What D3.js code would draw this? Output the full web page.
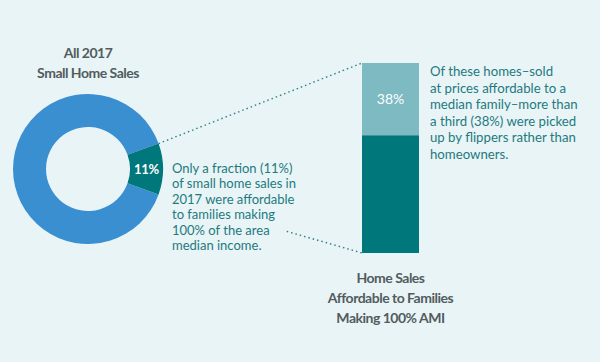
<!DOCTYPE html>
<html>
<head>
<meta charset="utf-8">
<script src="https://cdn.jsdelivr.net/npm/d3@7"></script>
<style>
  html, body { margin: 0; padding: 0; background: #e9f4f6; }
  svg { display: block; font-family: Lato, "Open Sans", sans-serif; }
</style>
</head>
<body>
<div id="chart"></div>
<script>
// all 2017 small home sales: share affordable to a 100% AMI family
const donutCategories = ['Not affordable', 'Affordable at 100% AMI'];
const donutValues = [89, 11];
const donutLabels = ['', '11%'];

// of the affordable sales: who bought them
const barCategories = ['Homeowners', 'Flippers'];
const barValues = [62, 38];
const barLabels = ['', '38%'];

const donutTitle = ['All 2017', 'Small Home Sales'];
const barTitle = ['Home Sales', 'Affordable to Families', 'Making 100% AMI'];
const donutNote = ['Only a fraction (11%)', 'of small home sales in', '2017 were affordable',
    'to families making', '100% of the area', 'median income.'];
const barNote = ['Of these homes\u2013sold', 'at prices affordable to a', 'median family\u2013more than',
    'a third (38%) were picked', 'up by flippers rather than', 'homeowners.'];

const width = 600;
const height = 362;
const blue = '#3a8fd1';
const teal = '#00777b';
const lightTeal = '#7dbac2';
const noteColor = '#1d7a80';
const titleColor = '#525c60';

const svg = d3.select('#chart').append('svg')
    .attr('width', width)
    .attr('height', height);

svg.append('rect').attr('width', width).attr('height', height).attr('fill', '#e9f4f6');

// ---- donut ----
let cx = 88, cy = 169, outerR = 75, innerR = 42;
let sliceShare = donutValues[1] / d3.sum(donutValues);
let start = Math.PI / 2 + sliceShare * Math.PI;   // centre the small slice at 3 o'clock

let pie = d3.pie().sort(null).value(d => d)
    .startAngle(start).endAngle(start + 2 * Math.PI);
let arcs = pie(donutValues);
let arc = d3.arc().innerRadius(innerR).outerRadius(outerR);

let donut = svg.append('g').attr('transform', `translate(${cx},${cy})`);
donut.selectAll('path').data(arcs).enter().append('path')
    .attr('d', arc)
    .attr('fill', (d, i) => i === 1 ? teal : blue);

donut.selectAll('text').data(arcs).enter().append('text')
    .attr('transform', d => `translate(${arc.centroid(d)})`)
    .attr('text-anchor', 'middle')
    .attr('dy', '0.35em')
    .attr('fill', 'white')
    .attr('font-weight', 700)
    .attr('font-size', 13)
    .attr('letter-spacing', -0.3)
    .text((d, i) => donutLabels[i]);

svg.append('g').selectAll('text').data(donutTitle).enter().append('text')
    .attr('x', cx)
    .attr('y', (d, i) => 58 + i * 20)
    .attr('text-anchor', 'middle')
    .attr('fill', titleColor)
    .attr('font-weight', 700)
    .attr('font-size', 14)
    .attr('letter-spacing', -0.5)
    .text(d => d);

// ---- stacked bar ----
let barX = d3.scaleBand().domain(['affordable']).range([362, 419]);
let barY = d3.scaleLinear().domain([0, d3.sum(barValues)]).range([253, 63]);
let stacked = d3.stack().keys(barCategories)([Object.fromEntries(barCategories.map((c, i) => [c, barValues[i]]))]);

let bar = svg.append('g');
bar.selectAll('rect').data(stacked).enter().append('rect')
    .attr('x', barX('affordable'))
    .attr('width', barX.bandwidth())
    .attr('y', d => barY(d[0][1]))
    .attr('height', d => barY(d[0][0]) - barY(d[0][1]))
    .attr('fill', (d, i) => i === 1 ? lightTeal : teal);

bar.selectAll('text').data(stacked).enter().append('text')
    .attr('x', barX('affordable') + barX.bandwidth() / 2)
    .attr('y', d => (barY(d[0][0]) + barY(d[0][1])) / 2)
    .attr('dy', '0.35em')
    .attr('text-anchor', 'middle')
    .attr('fill', 'white')
    .attr('font-size', 14)
    .text((d, i) => barLabels[i]);

svg.append('g').selectAll('text').data(barTitle).enter().append('text')
    .attr('x', barX('affordable') + barX.bandwidth() / 2)
    .attr('y', (d, i) => 283 + i * 20)
    .attr('text-anchor', 'middle')
    .attr('fill', titleColor)
    .attr('font-weight', 700)
    .attr('font-size', 14)
    .attr('letter-spacing', -0.5)
    .text(d => d);

// ---- dotted connectors from slice edges to bar corners ----
let slice = arcs[1];
let corner = a => [cx + outerR * Math.sin(a), cy - outerR * Math.cos(a)];
let topFrom = corner(slice.startAngle);
let bottomFrom = corner(slice.endAngle);
let topTo = [barX('affordable'), barY(d3.sum(barValues))];
let bottomTo = [barX('affordable'), barY(0)];
// lower connector is hidden behind the note until it clears the text
let hidden = 0.63;
let bottomStart = [bottomFrom[0] + (bottomTo[0] - bottomFrom[0]) * hidden,
    bottomFrom[1] + (bottomTo[1] - bottomFrom[1]) * hidden];

svg.append('g').selectAll('line').data([[topFrom, topTo], [bottomStart, bottomTo]]).enter().append('line')
    .attr('x1', d => d[0][0]).attr('y1', d => d[0][1])
    .attr('x2', d => d[1][0]).attr('y2', d => d[1][1])
    .attr('stroke', '#2f7f86')
    .attr('stroke-width', 1.4)
    .attr('stroke-dasharray', '1.5,3');

// ---- notes ----
svg.append('g').selectAll('text').data(donutNote).enter().append('text')
    .attr('x', 172)
    .attr('y', (d, i) => 173 + i * 15.4)
    .attr('fill', noteColor)
    .attr('font-size', 13)
    .text(d => d);

svg.append('g').selectAll('text').data(barNote).enter().append('text')
    .attr('x', 430)
    .attr('y', (d, i) => 76 + i * 16.6)
    .attr('fill', noteColor)
    .attr('font-size', 13.2)
    .text(d => d);
</script>
</body>
</html>
